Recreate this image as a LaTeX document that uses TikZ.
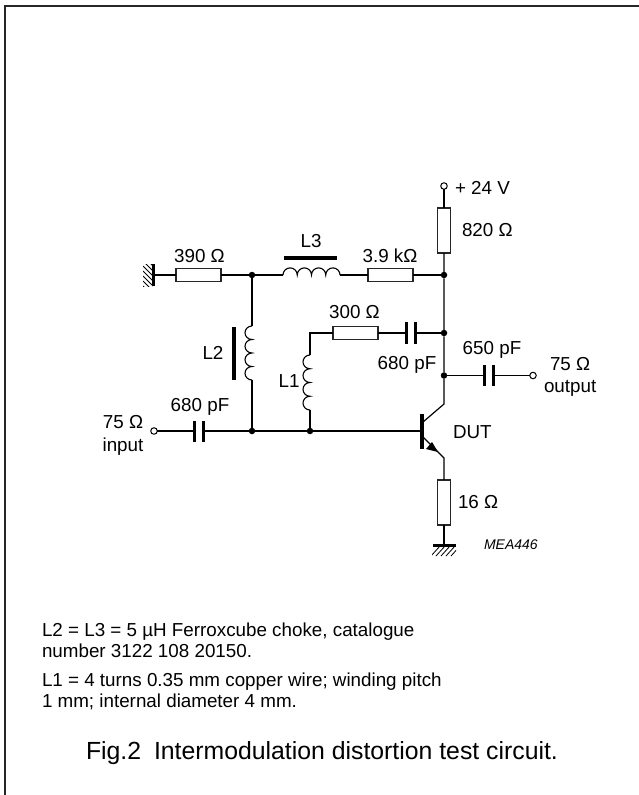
\documentclass[tikz,border=0pt]{standalone}
\usepackage{fontspec}
\setmainfont{Liberation Sans}
\tikzset{
  x=1pt,y=-1pt,
  wire/.style={line width=1.2pt,line cap=butt},
  res/.style={draw=black!85,line width=1.1pt,fill=white,rectangle,minimum width=45pt,minimum height=13.5pt,inner sep=0pt,outer sep=0pt},
  vres/.style={res,minimum width=13.5pt,minimum height=45pt},
  junction/.style={circle,fill=black,minimum size=6.5pt,inner sep=0pt,outer sep=0pt},
  port/.style={circle,draw=black,line width=1pt,fill=white,minimum size=6.5pt,inner sep=0pt,outer sep=0pt},
  plate/.style={line width=3pt,line cap=butt},
  corebar/.style={line width=3.2pt,line cap=butt},
  lab/.style={font=\fontsize{18.8}{20}\selectfont,inner sep=0pt,outer sep=0pt,anchor=base},
  note/.style={font=\fontsize{18.8}{20}\selectfont,inner sep=0pt,outer sep=0pt,anchor=base west},
  coil/.style={line width=1.1pt},
  vhump/.style={start angle=270,end angle=90,x radius=7,y radius=#1},
}
\begin{document}
\begin{tikzpicture}
\useasboundingbox (0,0) rectangle (639,795);
\draw[line width=2pt,black!85] (5.3,795) -- (5.3,5.5) -- (639,5.5);

% junctions
\node[junction] (jA) at (252,275) {};
\node[junction] (jB) at (444,275) {};
\node[junction] (jC) at (444,333) {};
\node[junction] (jD) at (444,375.5) {};
\node[junction] (jE) at (252,431) {};
\node[junction] (jF) at (310,431) {};
\node[port] (pTop) at (444,186) {};
\node[port] (pIn) at (154,431) {};
\node[port] (pOut) at (533,375.5) {};

% components
\node[res] (r390) at (198.5,275) {};
\node[res] (r39k) at (390.5,275) {};
\node[vres] (r820) at (444,230.5) {};
\node[res] (r300) at (355.5,333) {};
\node[vres] (r16) at (444,502.5) {};

% grounds
\coordinate (gL) at (153.5,275);
\coordinate (gB) at (444,545);

% inductors end points
\coordinate (L3a) at (283,275);
\coordinate (L3b) at (340,275);
\coordinate (L2a) at (252,326);
\coordinate (L2b) at (252,380);
\coordinate (L1a) at (310,355);
\coordinate (L1b) at (310,410);
\coordinate (L1t) at (310,333);

% caps
\coordinate (c1a) at (194,431); \coordinate (c1b) at (203,431);
\coordinate (c2a) at (406,333); \coordinate (c2b) at (415,333);
\coordinate (c3a) at (484,375.5); \coordinate (c3b) at (493,375.5);

% transistor
\coordinate (qB) at (422,431);
\coordinate (qC0) at (423,422);
\coordinate (qC) at (444,404);
\coordinate (qE0) at (423,437);
\coordinate (qE) at (444,458);
\coordinate (qA) at (438,452);

% wires
\draw[wire] (pTop) -- (r820.north);
\draw[wire] (r820.south) -- (jB) -- (jC) -- (jD) -- (qC) -- (qC0);
\draw[wire] (gL) -- (r390.west);
\draw[wire] (r390.east) -- (jA) -- (L3a);
\draw[wire] (L3b) -- (r39k.west);
\draw[wire] (r39k.east) -- (jB);
\draw[wire] (jA) -- (L2a);
\draw[wire] (L2b) -- (jE);
\draw[wire] (jF) -- (L1b);
\draw[wire] (L1a) -- (L1t) -- (r300.west);
\draw[wire] (r300.east) -- (c2a);
\draw[wire] (c2b) -- (jC);
\draw[wire] (jD) -- (c3a);
\draw[wire] (c3b) -- (pOut);
\draw[wire] (pIn) -- (c1a);
\draw[wire] (c1b) -- (jE) -- (jF) -- (qB);
\draw[wire] (qE0) -- (qE) -- (r16.north);
\draw[wire] (r16.south) -- (gB);

% capacitor plates
\draw[plate] (194,421) -- (194,442) (203,421) -- (203,442);
\draw[plate] (406,322) -- (406,344) (415,322) -- (415,344);
\draw[plate] (484,365) -- (484,386) (493,365) -- (493,386);

% coils
\draw[coil] (L3a) arc[start angle=180,end angle=360,radius=7.125] arc[start angle=180,end angle=360,radius=7.125] arc[start angle=180,end angle=360,radius=7.125] arc[start angle=180,end angle=360,radius=7.125];
\draw[coil] (L2a) arc[vhump=6.75] arc[vhump=6.75] arc[vhump=6.75] arc[vhump=6.75];
\draw[coil] (L1a) arc[vhump=6.875] arc[vhump=6.875] arc[vhump=6.875] arc[vhump=6.875];
\draw[corebar] (284,258) -- (337,258);
\draw[corebar] (234,327) -- (234,380);

% transistor
\draw[line width=3.2pt] (422,414) -- (422,449);
\fill (qA) -- ++(-12,-3) -- ++(6,-7) -- cycle;

% grounds
\draw[line width=3pt] (153.5,264) -- (153.5,286);
\begin{scope}
\clip (143,264) rectangle (153,286);
\foreach \i in {0,...,6} \draw[line width=.8pt] (153,{266+\i*5}) -- (143,{256+\i*5});
\end{scope}
\draw[line width=3pt] (433,545) -- (456,545);
\begin{scope}
\clip (432,546) rectangle (456,556);
\foreach \i in {0,...,4} \draw[line width=.8pt] ({440+\i*5},546) -- ({431+\i*5},556);
\end{scope}

% labels
\node[lab] (t390) at (199.5,262) {390 Ω};
\node[lab] (tL3) at (311,247) {L3};
\node[lab] (t39k) at (390,262) {3.9 kΩ};
\node[lab,anchor=base west] (tV) at (455,194) {+ 24 V};
\node[lab,anchor=base west] (t820) at (462,236) {820 Ω};
\node[lab] (t300) at (354.5,318) {300 Ω};
\node[lab] (t680b) at (407,369) {680 pF};
\node[lab] (t650) at (492,354) {650 pF};
\node[lab,anchor=base west] (t75o) at (550,370) {75 Ω};
\node[lab,anchor=base west] (tout) at (544,392) {output};
\node[lab] (tL2) at (213,359) {L2};
\node[lab] (tL1) at (289,387) {L1};
\node[lab] (t680a) at (200,411) {680 pF};
\node[lab] (t75i) at (123,428) {75 Ω};
\node[lab] (tin) at (123,451) {input};
\node[lab,anchor=base west] (tDUT) at (453,438) {DUT};
\node[lab,anchor=base west] (t16) at (458,508) {16 Ω};
\node[lab,anchor=base west,font=\fontsize{14}{15}\selectfont\itshape] (tmea) at (484,549) {MEA446};

\node[note] (n1) at (42,636) {L2 = L3 = 5 µH Ferroxcube choke, catalogue};
\node[note] (n2) at (42,657) {number 3122 108 20150.};
\node[note] (n3) at (42,686) {L1 = 4 turns 0.35 mm copper wire; winding pitch};
\node[note] (n4) at (42,707) {1 mm; internal diameter 4 mm.};
\node[lab,anchor=base west,font=\fontsize{24.8}{28}\selectfont] (cap) at (86,759) {Fig.2\hspace{6pt} Intermodulation distortion test circuit.};
\end{tikzpicture}
\end{document}
